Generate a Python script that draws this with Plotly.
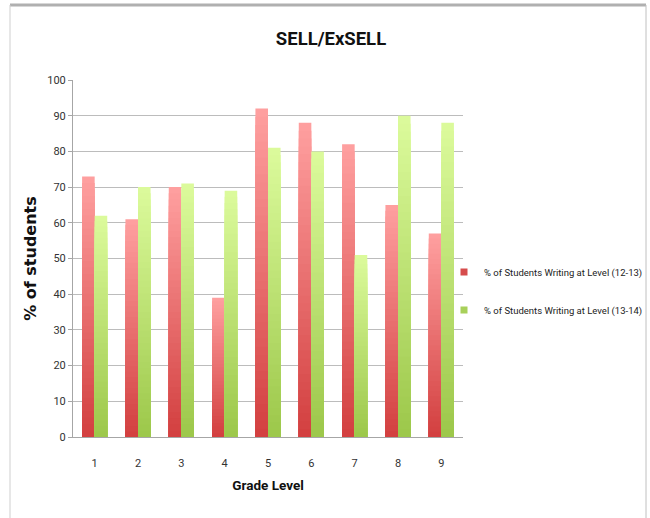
import plotly.graph_objects as go

grades = [1, 2, 3, 4, 5, 6, 7, 8, 9]
tick_labels = ["1", "2", "3", "4", "5", "6", "7", "8", "9"]
level_12_13 = [73, 61, 70, 39, 92, 88, 82, 65, 57]
level_13_14 = [62, 70, 71, 69, 81, 80, 51, 90, 88]
series_names = ["% of Students Writing at Level (12-13)", "% of Students Writing at Level (13-14)"]

NARROW = "Roboto, sans-serif"

red_bottom, red_top = (210, 63, 63), (255, 160, 160)
green_bottom, green_top = (156, 199, 74), (220, 251, 156)

def lerp(a, b, t):
    return "rgb(%d,%d,%d)" % tuple(round(a[i] + (b[i] - a[i]) * t) for i in range(3))

N = 40
BW = 0.29
fig = go.Figure()

for values, offset, c0, c1 in [(level_12_13, -BW, red_bottom, red_top),
                                (level_13_14, 0.0, green_bottom, green_top)]:
    for k in range(N, 0, -1):
        frac = k / N
        fig.add_trace(go.Bar(
            x=grades, y=[v * frac for v in values],
            width=BW, offset=offset,
            marker=dict(color=lerp(c0, c1, (k - 0.5) / N), line=dict(width=0)),
            showlegend=False, hoverinfo="skip",
        ))

# legend entries
fig.add_trace(go.Scatter(x=[None], y=[None], mode="markers", name=series_names[0],
                         marker=dict(symbol="square", size=7, color="rgb(214,76,76)"),
                         legend="legend"))
fig.add_trace(go.Scatter(x=[None], y=[None], mode="markers", name=series_names[1],
                         marker=dict(symbol="square", size=7, color="rgb(168,208,90)"),
                         legend="legend2"))

# plot area in px: x 73..463, y 80..437
L, R, T, B = 73, 463, 80, 437
W, H = R - L, B - T
px = lambda x: (x - L) / W
py = lambda y: (B - y) / H

legend_common = dict(xanchor="left", yanchor="middle", bgcolor="rgba(0,0,0,0)",
                     font=dict(family=NARROW, size=9.5, color="#222222"),
                     itemwidth=30, borderwidth=0)

fig.update_layout(
    width=650, height=518,
    margin=dict(l=L, r=650 - R, t=T, b=518 - B, pad=0, autoexpand=False),
    paper_bgcolor="white", plot_bgcolor="white",
    barmode="overlay",
    title=dict(text="<b>SELL/ExSELL</b>", x=331 / 650, xanchor="center",
               y=1 - 39 / 518, yanchor="middle", xref="container",
               font=dict(family=NARROW, size=18.5, color="#111111")),
    xaxis=dict(range=[0.5, 9.5], tickmode="array", tickvals=grades, ticktext=tick_labels,
               showgrid=False, zeroline=False, showline=True, linecolor="#a6a6a6", linewidth=1,
               ticks="outside", ticklen=16, tickcolor="rgba(0,0,0,0)",
               tickfont=dict(family=NARROW, size=11, color="#333333"),
               title=dict(text="<b>Grade Level</b>", standoff=11,
                          font=dict(family=NARROW, size=13.5, color="#111111"))),
    yaxis=dict(range=[0, 100], tickmode="linear", tick0=0, dtick=10,
               showgrid=True, gridcolor="#bcbcbc", gridwidth=1, zeroline=False,
               showline=True, linecolor="#a6a6a6", linewidth=1,
               ticks="outside", ticklen=4, tickcolor="#a6a6a6",
               tickfont=dict(family=NARROW, size=11, color="#333333"),
               title=dict(text="<b>% of students</b>", standoff=6,
                          font=dict(family="DejaVu Sans, Verdana, sans-serif", size=16, color="#111111"))),
    legend=dict(x=px(444), y=py(272), **legend_common),
    legend2=dict(x=px(444), y=py(310), **legend_common),
    shapes=[
        dict(type="line", xref="paper", yref="paper", x0=px(10), x1=px(646), y0=py(5), y1=py(5),
             line=dict(color="#b0b0b0", width=3)),
        dict(type="line", xref="paper", yref="paper", x0=px(10), x1=px(10), y0=py(5), y1=py(525),
             line=dict(color="#cfcfcf", width=1)),
        dict(type="line", xref="paper", yref="paper", x0=px(646), x1=px(646), y0=py(5), y1=py(525),
             line=dict(color="#c0c0c0", width=1)),
    ],
)

fig.write_html("out.html")
